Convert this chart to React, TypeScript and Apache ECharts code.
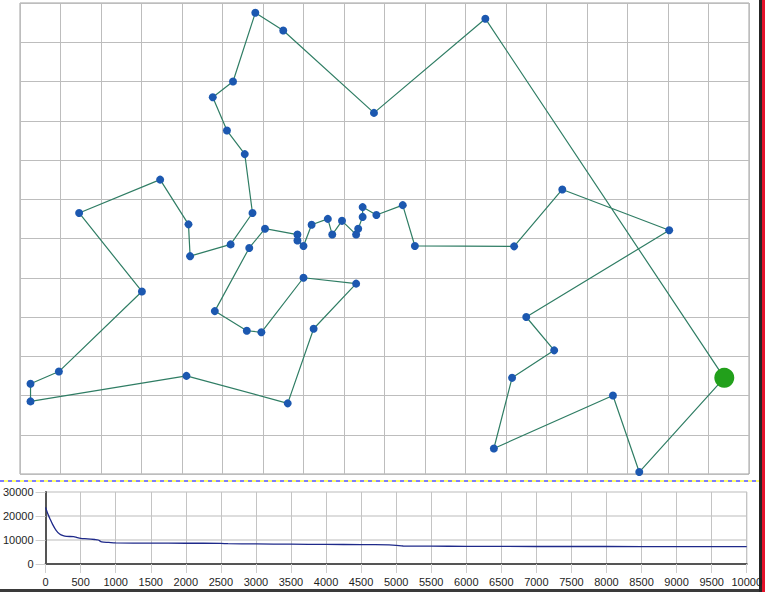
import React, { useEffect, useRef } from "react";
import * as echarts from "echarts";

// Tour (in visiting order, grid units), starting and ending at the depot (green)
const tourX = [17.39, 11.49, 8.74, 6.5, 5.81, 5.26, 4.76, 5.11, 5.55, 5.74, 5.2, 4.2, 4.16, 3.46, 1.46, 3.01, 0.96, 0.26, 0.26, 4.11, 6.61, 7.25, 8.3, 7.0, 5.96, 5.6, 4.81, 5.66, 6.05, 6.85, 6.85, 7.0, 7.2, 7.6, 7.71, 7.95, 8.3, 8.35, 8.46, 8.46, 8.8, 9.45, 9.75, 12.2, 13.39, 16.03, 12.5, 13.19, 12.15, 11.7, 14.64, 15.29];
const tourY = [2.45, 11.6, 9.2, 11.3, 11.75, 10.0, 9.6, 8.75, 8.15, 6.65, 5.85, 5.55, 6.36, 7.5, 6.65, 4.65, 2.61, 2.3, 1.85, 2.5, 1.8, 3.7, 4.85, 5.0, 3.61, 3.65, 4.15, 5.76, 6.25, 6.1, 5.95, 5.81, 6.35, 6.5, 6.1, 6.45, 6.1, 6.25, 6.55, 6.8, 6.6, 6.85, 5.81, 5.8, 7.25, 6.21, 4.0, 3.15, 2.45, 0.65, 2.0, 0.05];

// Convergence curve (iteration, best distance)
const convIter = [0, 30, 60, 100, 150, 200, 250, 300, 400, 450, 500, 600, 700, 750, 800, 900, 1000, 1500, 2000, 2500, 2600, 3000, 3500, 4000, 4500, 4900, 5000, 5100, 5500, 6000, 7000, 8000, 9000, 10000];
const convDist = [23600, 21000, 19000, 16500, 14000, 12500, 11800, 11500, 11400, 11000, 10700, 10500, 10200, 10000, 9200, 9000, 8800, 8700, 8650, 8600, 8450, 8350, 8250, 8150, 8100, 7950, 7800, 7500, 7450, 7350, 7300, 7300, 7250, 7250];

const FONT = "Liberation Sans";

export default function App() {
  const ref = useRef<HTMLDivElement>(null);
  useEffect(() => {
    if (!ref.current) return;
    const chart = echarts.init(ref.current, undefined, { renderer: "svg" });
    const tour: any[] = tourX.map((x, i) =>
      i === 0 ? { value: [x, tourY[i]], symbol: "none" } : [x, tourY[i]]
    );
    tour.push({ value: [tourX[0], tourY[0]], symbol: "none" });
    const conv = convIter.map((x, i) => [x, convDist[i]]);
    const plain = (v: number) => String(v);
    chart.setOption({
      animation: false,
      backgroundColor: "#ffffff",
      grid: [
        { left: 20, top: 3, width: 729, height: 471, show: true, borderColor: "#a0a0a0", borderWidth: 1, backgroundColor: "transparent" },
        { left: 43, top: 492, width: 706, height: 72, show: true, borderColor: "#9a9a9a", borderWidth: 1, backgroundColor: "transparent" },
      ],
      xAxis: [
        {
          type: "value", gridIndex: 0, min: 0, max: 18, interval: 1,
          axisLine: { show: false }, axisTick: { show: false }, axisLabel: { show: false },
          splitLine: { show: true, lineStyle: { color: "#bdbdbd", width: 1 } },
        },
        {
          type: "value", gridIndex: 1, min: 0, max: 10000, interval: 500,
          axisLine: { show: true, onZero: false, lineStyle: { color: "#555555", width: 2 } },
          axisTick: { show: true, length: 9, lineStyle: { color: "#cfcfcf" } },
          axisLabel: { show: true, margin: 12, fontSize: 11, color: "#1e1e1e", fontFamily: FONT, formatter: plain },
          splitLine: { show: true, lineStyle: { color: "#c4c4c4", width: 1 } },
        },
      ],
      yAxis: [
        {
          type: "value", gridIndex: 0, min: 0, max: 12, interval: 1,
          axisLine: { show: false }, axisTick: { show: false }, axisLabel: { show: false },
          splitLine: { show: true, lineStyle: { color: "#bdbdbd", width: 1 } },
        },
        {
          type: "value", gridIndex: 1, min: 0, max: 30000, interval: 10000,
          axisLine: { show: true, onZero: false, lineStyle: { color: "#555555", width: 2 } },
          axisTick: { show: true, length: 10, lineStyle: { color: "#cfcfcf" } },
          axisLabel: { show: true, margin: 12, fontSize: 11, color: "#1e1e1e", fontFamily: FONT, formatter: plain },
          splitLine: { show: true, lineStyle: { color: "#dddddd", width: 2 } },
        },
      ],
      series: [
        {
          type: "line", xAxisIndex: 0, yAxisIndex: 0, data: tour, z: 2,
          symbol: "circle", symbolSize: 8, showSymbol: true,
          lineStyle: { color: "#2f7d64", width: 1.2 },
          itemStyle: { color: "#1c58b0" },
          silent: true, clip: false,
        },
        {
          type: "scatter", xAxisIndex: 0, yAxisIndex: 0, z: 10,
          data: [[tourX[0], tourY[0]]], symbolSize: 20,
          itemStyle: { color: "#22a01b", opacity: 1 }, silent: true,
        },
        {
          type: "line", xAxisIndex: 1, yAxisIndex: 1, data: conv,
          symbol: "none", smooth: 0.3,
          lineStyle: { color: "#1f2a8a", width: 1.3 },
          silent: true,
        },
      ],
      graphic: [
        { type: "line", shape: { x1: 0, y1: 481, x2: 760, y2: 481 }, style: { stroke: "#ffff66", lineWidth: 2 }, silent: true },
        { type: "line", shape: { x1: 0, y1: 481, x2: 760, y2: 481 }, style: { stroke: "#7b7bff", lineWidth: 2, lineDash: [4, 4] }, silent: true },
        { type: "rect", shape: { x: 759, y: 0, width: 3, height: 592 }, style: { fill: "#262626" }, silent: true },
        { type: "rect", shape: { x: 762, y: 0, width: 3, height: 592 }, style: { fill: "#e3122a" }, silent: true },
        { type: "rect", shape: { x: 0, y: 589, width: 759, height: 3 }, style: { fill: "#3a3a3a" }, silent: true },
      ],
    });
    return () => chart.dispose();
  }, []);
  return (
    <div
      ref={ref}
      style={{ position: "fixed", left: 0, top: 0, width: 765, height: 592 }}
    />
  );
}
